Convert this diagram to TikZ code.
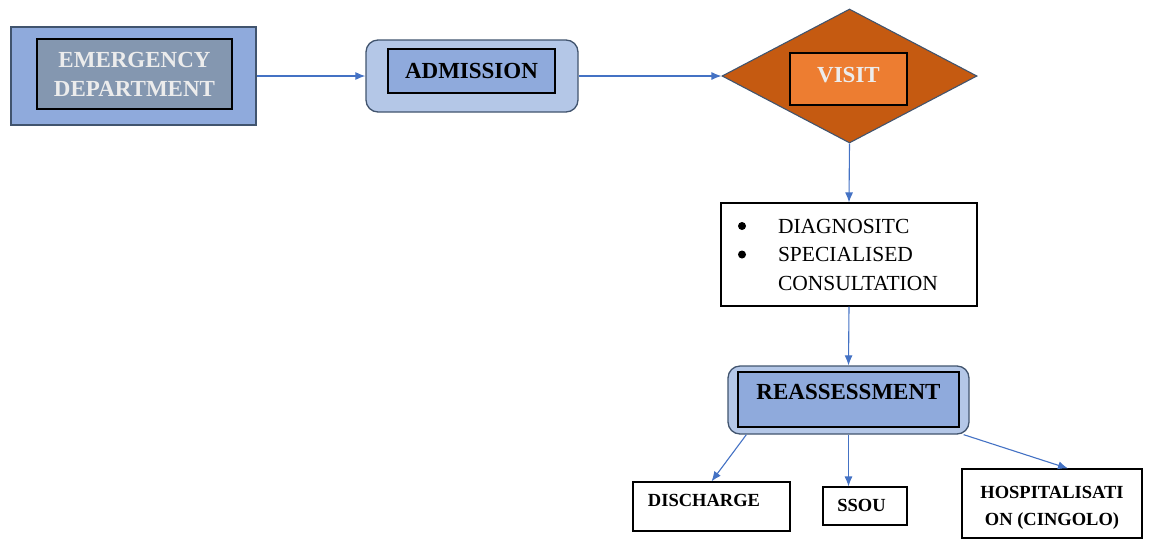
\documentclass[tikz,border=0pt]{standalone}
\usepackage{fontspec}
\setmainfont{Liberation Serif}
\usetikzlibrary{shapes.geometric,arrows.meta,calc}
\definecolor{bordc}{RGB}{65,84,110}
\definecolor{edout}{RGB}{143,170,220}
\definecolor{edin}{RGB}{132,151,176}
\definecolor{edtext}{RGB}{236,236,236}
\definecolor{lightblue}{RGB}{180,199,231}
\definecolor{midblue}{RGB}{143,170,220}
\definecolor{darkorange}{RGB}{197,90,17}
\definecolor{orange}{RGB}{237,125,49}
\definecolor{arrowc}{RGB}{68,114,196}
\newcommand{\bigbul}{\makebox[42pt][l]{\hspace*{2pt}\raisebox{3pt}{\tikz\fill[black] (0pt,0pt) circle (4pt);}}}
\begin{document}
\begin{tikzpicture}[x=1pt,y=-1pt,
  outerbox/.style={draw=bordc, line width=1.3pt, inner sep=0pt},
  innerbox/.style={draw=black, line width=1.2pt, inner sep=0pt},
  bigbold/.style={font=\fontsize{23}{29}\selectfont\bfseries},
  smallbold/.style={font=\fontsize{18.5}{27}\selectfont\bfseries},
  leaf/.style={draw=black, line width=1.1pt, inner sep=0pt},
  conn/.style={draw=arrowc, line width=1.1pt, -{Latex[length=10pt,width=8pt]}}]
\useasboundingbox (0,0) rectangle (1167,542);

% Emergency department
\node[outerbox, fill=edout, minimum width=245pt, minimum height=98pt] (ed) at (133.5,76) {};
\node[innerbox, fill=edin, minimum width=195pt, minimum height=70pt, bigbold, text=edtext, align=center] (edin) at (134.5,74) {EMERGENCY\\DEPARTMENT};

% Admission
\node[outerbox, fill=lightblue, rounded corners=12pt, minimum width=212pt, minimum height=72pt] (adm) at (472,76) {};
\node[innerbox, fill=midblue, minimum width=167pt, minimum height=44pt, bigbold] (admin) at (471.5,71) {ADMISSION};

% Visit
\node[draw=bordc, line width=1.1pt, fill=darkorange, shape=diamond, inner sep=0pt, minimum width=255pt, minimum height=134pt] (visit) at (849.5,76) {};
\node[innerbox, fill=orange, minimum width=117pt, minimum height=52pt,
  label={[bigbold, text=edtext, yshift=3.5pt]center:VISIT}] (visitin) at (848.5,79) {};

% Diagnostic box
\node[leaf, minimum width=256pt, minimum height=103pt, text width=226pt, align=left,
  font=\fontsize{21.5}{28.5}\selectfont] (diag) at (849,254.5)
  {\bigbul DIAGNOSITC\\\bigbul SPECIALISED\\\hspace*{42pt}CONSULTATION};

% Reassessment
\node[outerbox, fill=lightblue, rounded corners=12pt, minimum width=241pt, minimum height=68pt] (reass) at (848.5,400) {};
\node[innerbox, fill=midblue, minimum width=221pt, minimum height=55pt,
  label={[bigbold, yshift=8pt]center:REASSESSMENT}] (reassin) at (848.5,399.5) {};

% Leaves
\node[leaf, minimum width=157pt, minimum height=49pt,
  label={[smallbold, xshift=-7.5pt, yshift=6.5pt]center:DISCHARGE}] (dis) at (711.5,506.5) {};
\node[leaf, minimum width=84pt, minimum height=38pt,
  label={[smallbold, xshift=-3.5pt, yshift=1pt]center:SSOU}] (ssou) at (865,506) {};
\node[leaf, minimum width=180pt, minimum height=69pt,
  label={[smallbold, align=center, yshift=-4.5pt]center:HOSPITALISATI\\ON (CINGOLO)}] (hosp) at (1052,503.5) {};

% Connectors
\draw[conn] (ed.east) -- (adm.west);
\draw[conn] (adm.east) -- (visit.west);
\draw[conn] (visit.south) -- (diag.north);
\draw[conn] (diag.south) -- (reass.north);
\draw[conn] ($(reass.south west)+(19,0)$) -- (dis.north);
\draw[conn] (reass.south) -- (reass.south |- ssou.north);
\draw[conn] ($(reass.south east)+(-6,0)$) -- ($(hosp.north)+(16,0)$);
\end{tikzpicture}
\end{document}
